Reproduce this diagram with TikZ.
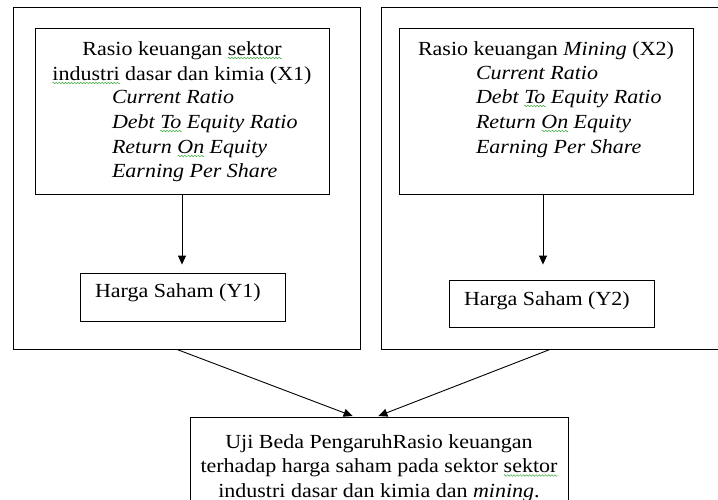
\documentclass[tikz,border=0pt]{standalone}
\usepackage{fontspec}
\setmainfont{Liberation Serif}[FakeStretch=1.1]
\usetikzlibrary{arrows.meta}
\definecolor{sqgreen}{RGB}{60,170,60}
\newsavebox\wavebox
\sbox\wavebox{\begin{pgfpicture}%
  \begin{pgfinterruptboundingbox}%
  \pgfsetlinewidth{0.5pt}\pgfsetstrokecolor{sqgreen}%
  \pgfpathmoveto{\pgfpoint{0pt}{0pt}}%
  \pgfpathlineto{\pgfpoint{0.75pt}{0.8pt}}%
  \pgfpathlineto{\pgfpoint{2.25pt}{-0.8pt}}%
  \pgfpathlineto{\pgfpoint{3pt}{0pt}}%
  \pgfusepath{stroke}%
  \end{pgfinterruptboundingbox}%
  \pgfpathrectangle{\pgfpoint{0pt}{-1pt}}{\pgfpoint{3pt}{2pt}}%
  \pgfusepath{use as bounding box}%
\end{pgfpicture}}
\newcommand\gsq[1]{\setbox0\hbox{#1}\rlap{\raisebox{-4pt}[0pt][0pt]{\hbox to \wd0{\xleaders\copy\wavebox\hfill}}}\box0\relax}
\tikzset{
  box/.style={draw=black, line width=0.9pt, rectangle, inner sep=0pt},
  txt/.style={inner sep=0pt, outer sep=0pt, font=\fontsize{20}{24.5}\selectfont},
  arr/.style={-{Triangle[length=9pt,width=8pt]}, line width=0.9pt, black}
}
\begin{document}
\begin{tikzpicture}[x=1pt, y=-1pt]
\clip (0,0) rectangle (718,499);
\useasboundingbox (0,0) rectangle (718,499);
\fill[white] (0,0) rectangle (718,499);
% outer boxes
\node[box, minimum width=347pt, minimum height=342pt] (lo) at (186.5,178) {};
\node[box, minimum width=338pt, minimum height=342pt] (ro) at (550,178) {};
% inner boxes
\node[box, minimum width=294pt, minimum height=166pt] (li) at (182,111) {};
\node[box, minimum width=294pt, minimum height=166pt] (ri) at (546,111) {};
\node[box, minimum width=205pt, minimum height=48pt] (y1) at (182.5,297) {};
\node[box, minimum width=205pt, minimum height=47pt] (y2) at (551.5,303.5) {};
\node[box, minimum width=378pt, minimum height=103pt] (bt) at (379,468.5) {};
% left texts
\node[txt, anchor=base] (l1) at (182,55) {Rasio keuangan \gsq{sektor}};
\node[txt, anchor=base] (l2) at (182,80) {\gsq{industri} dasar dan kimia (X1)};
\node[txt, anchor=base west] (l3) at (112,103) {\itshape Current Ratio};
\node[txt, anchor=base west] (l4) at (112,128) {\itshape Debt \gsq{To} Equity Ratio};
\node[txt, anchor=base west] (l5) at (112,153) {\itshape Return \gsq{On} Equity};
\node[txt, anchor=base west] (l6) at (112,177) {\itshape Earning Per Share};
% right texts
\node[txt, anchor=base] (r1) at (546,55) {Rasio keuangan \textit{Mining} (X2)};
\node[txt, anchor=base west] (r3) at (476,79) {\itshape Current Ratio};
\node[txt, anchor=base west] (r4) at (476,103) {\itshape Debt \gsq{To} Equity Ratio};
\node[txt, anchor=base west] (r5) at (476,128) {\itshape Return \gsq{On} Equity};
\node[txt, anchor=base west] (r6) at (476,153) {\itshape Earning Per Share};
% harga saham
\node[txt, anchor=base west] (ty1) at (95,297.5) {Harga Saham (Y1)};
\node[txt, anchor=base west] (ty2) at (464,305) {Harga Saham (Y2)};
% bottom text
\node[txt, anchor=base] (b1) at (379,448) {Uji Beda PengaruhRasio keuangan};
\node[txt, anchor=base] (b2) at (379,472.5) {terhadap harga saham pada sektor \gsq{sektor}};
\node[txt, anchor=base] (b3) at (379,497) {industri dasar dan kimia dan \textit{mining}.};
% arrows
\draw[arr, shorten >=8pt] (li.south) -- (li.south |- y1.north);
\draw[arr, shorten >=15pt] ([xshift=-3pt]ri.south) -- ([xshift=-3pt]ri.south |- y2.north);
\draw[arr, shorten >=1.5pt] ([xshift=-9.5pt]lo.south) -- ([xshift=-25pt]bt.north);
\draw[arr, shorten >=1.5pt] (ro.south) -- ([xshift=-2pt]bt.north);
\end{tikzpicture}
\end{document}
